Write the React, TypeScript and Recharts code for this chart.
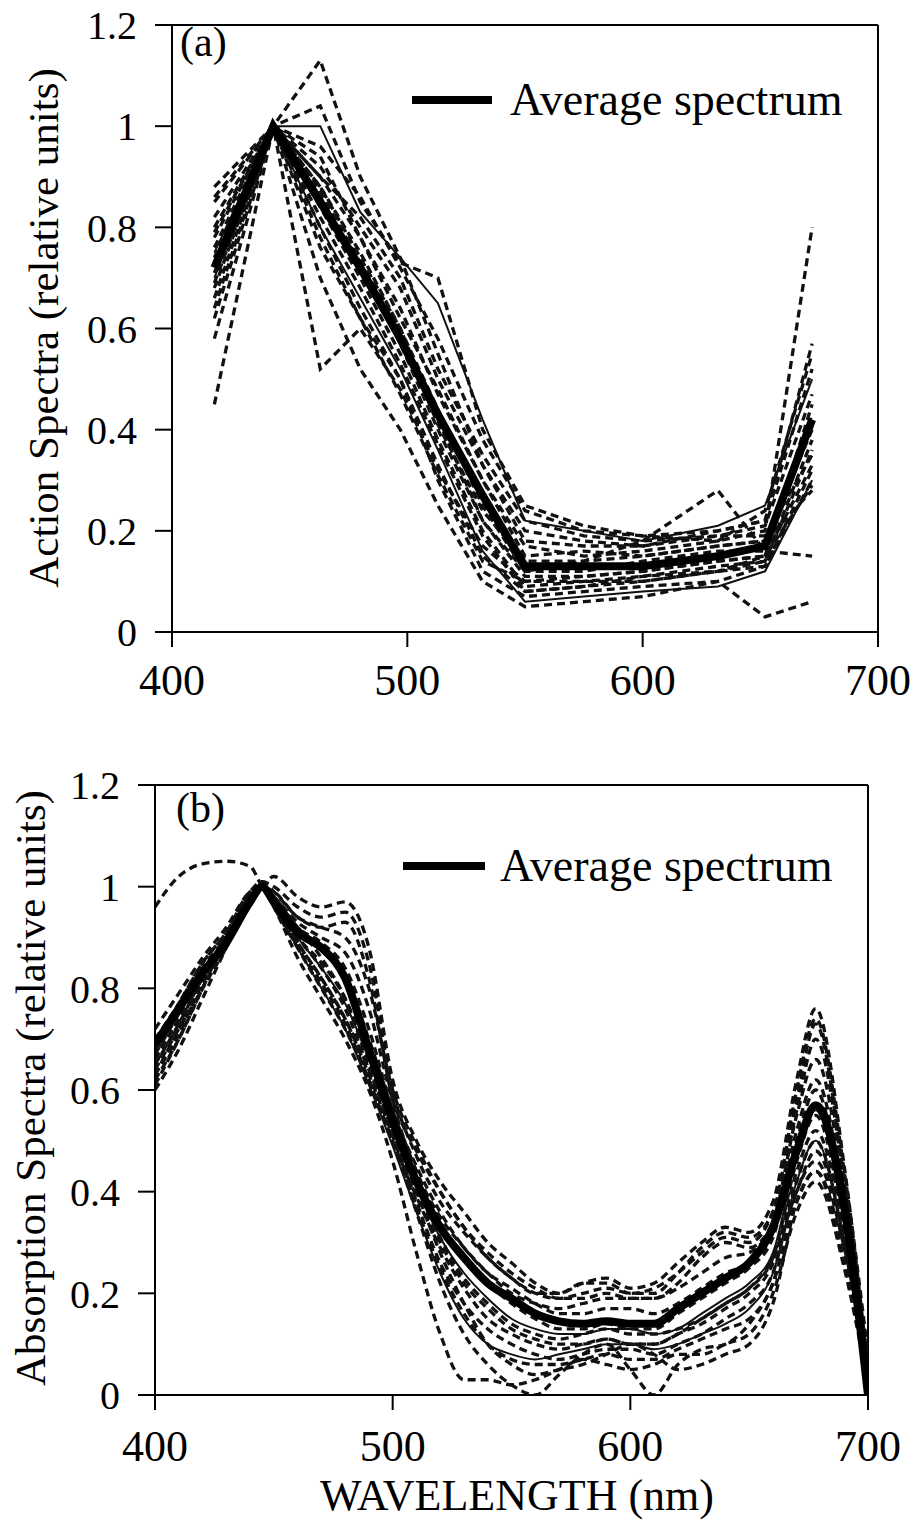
import { LineChart, Line, XAxis, YAxis, ReferenceLine } from "recharts";

// (a) action spectra, sampled at the measurement wavelengths
const WL_A = [418, 443, 463, 480, 497, 513, 532, 550, 575, 600, 632, 652, 672];
const AVG_A = [0.72, 1.0, 0.85, 0.72, 0.58, 0.43, 0.27, 0.13, 0.13, 0.13, 0.15, 0.17, 0.42];
const ACTION_DASHED = [
  [0.45, 1.0, 0.9, 0.78, 0.62, 0.48, 0.3, 0.17, 0.15, 0.16, 0.18, 0.2, 0.8],
  [0.88, 1.0, 1.13, 0.9, 0.74, 0.55, 0.33, 0.2, 0.18, 0.17, 0.2, 0.22, 0.57],
  [0.85, 1.0, 1.04, 0.85, 0.73, 0.7, 0.4, 0.25, 0.21, 0.19, 0.18, 0.24, 0.55],
  [0.62, 1.0, 0.52, 0.6, 0.48, 0.32, 0.17, 0.1, 0.1, 0.1, 0.12, 0.15, 0.45],
  [0.58, 1.0, 0.78, 0.62, 0.5, 0.3, 0.12, 0.07, 0.08, 0.09, 0.1, 0.03, 0.06],
  [0.8, 1.0, 0.88, 0.75, 0.6, 0.42, 0.22, 0.12, 0.14, 0.18, 0.28, 0.16, 0.15],
  [0.68, 1.0, 0.92, 0.8, 0.68, 0.5, 0.33, 0.18, 0.17, 0.17, 0.19, 0.19, 0.35],
  [0.76, 1.0, 0.84, 0.7, 0.55, 0.38, 0.2, 0.09, 0.1, 0.11, 0.13, 0.14, 0.38],
  [0.73, 1.0, 0.86, 0.72, 0.57, 0.4, 0.22, 0.11, 0.11, 0.12, 0.14, 0.15, 0.33],
  [0.82, 1.0, 0.9, 0.82, 0.7, 0.52, 0.35, 0.22, 0.19, 0.18, 0.19, 0.21, 0.47],
  [0.66, 1.0, 0.7, 0.52, 0.4, 0.25, 0.1, 0.05, 0.06, 0.07, 0.1, 0.13, 0.3],
  [0.78, 1.0, 0.94, 0.78, 0.64, 0.47, 0.3, 0.15, 0.16, 0.15, 0.17, 0.18, 0.28],
  [0.71, 1.0, 0.82, 0.68, 0.53, 0.37, 0.19, 0.08, 0.09, 0.1, 0.12, 0.13, 0.32],
  [0.64, 1.0, 0.88, 0.74, 0.6, 0.44, 0.25, 0.12, 0.12, 0.14, 0.16, 0.16, 0.43],
  [0.86, 1.0, 0.96, 0.86, 0.72, 0.58, 0.38, 0.24, 0.2, 0.19, 0.2, 0.22, 0.52],
  [0.74, 1.0, 0.8, 0.64, 0.5, 0.33, 0.15, 0.08, 0.09, 0.11, 0.12, 0.14, 0.36],
  [0.69, 1.0, 0.87, 0.73, 0.59, 0.41, 0.24, 0.14, 0.14, 0.15, 0.17, 0.18, 0.4],
  [0.79, 1.0, 0.76, 0.62, 0.47, 0.31, 0.14, 0.1, 0.11, 0.12, 0.14, 0.15, 0.29],
];
const ACTION_THIN = [
  [0.75, 1.0, 1.0, 0.83, 0.74, 0.65, 0.42, 0.22, 0.2, 0.18, 0.21, 0.25, 0.5],
  [0.7, 1.0, 0.8, 0.66, 0.52, 0.36, 0.16, 0.06, 0.07, 0.08, 0.09, 0.12, 0.3],
];

// (b) absorption spectra
const WL_B = [
  400, 410, 420, 430, 440, 445, 450, 460, 470, 480, 490, 500, 510, 520, 530, 540,
  550, 560, 570, 580, 590, 600, 610, 620, 630, 640, 650, 660, 670, 678, 690, 700,
];
const AVG_B = [
  0.69, 0.76, 0.83, 0.89, 0.97, 1.0, 0.97, 0.91, 0.88, 0.82, 0.68, 0.54, 0.42, 0.33, 0.27, 0.22,
  0.19, 0.16, 0.145, 0.14, 0.145, 0.14, 0.14, 0.17, 0.2, 0.23, 0.26, 0.33, 0.48, 0.57, 0.37, 0.0,
];
const ABS_DASHED = [
  [0.96, 1.02, 1.045, 1.05, 1.04, 1.0, 0.97, 0.92, 0.86, 0.78, 0.65, 0.52, 0.4, 0.3, 0.22, 0.17, 0.13, 0.11, 0.1, 0.1, 0.11, 0.1, 0.1, 0.12, 0.15, 0.18, 0.21, 0.27, 0.4, 0.48, 0.3, 0.03],
  [0.62, 0.7, 0.8, 0.9, 0.98, 1.0, 1.02, 0.98, 0.96, 0.97, 0.88, 0.62, 0.5, 0.42, 0.36, 0.3, 0.26, 0.22, 0.2, 0.22, 0.23, 0.21, 0.22, 0.26, 0.3, 0.33, 0.32, 0.38, 0.62, 0.76, 0.45, 0.05],
  [0.6, 0.68, 0.78, 0.88, 0.97, 1.01, 1.0, 0.96, 0.94, 0.95, 0.85, 0.6, 0.47, 0.38, 0.32, 0.27, 0.23, 0.2, 0.19, 0.2, 0.21, 0.2, 0.21, 0.24, 0.28, 0.31, 0.3, 0.36, 0.58, 0.73, 0.42, 0.04],
  [0.66, 0.74, 0.83, 0.9, 0.98, 1.0, 0.99, 0.94, 0.92, 0.93, 0.82, 0.58, 0.44, 0.35, 0.29, 0.24, 0.2, 0.18, 0.17, 0.18, 0.19, 0.19, 0.19, 0.21, 0.24, 0.27, 0.28, 0.34, 0.55, 0.66, 0.4, 0.06],
  [0.64, 0.72, 0.8, 0.88, 0.97, 1.0, 0.96, 0.86, 0.78, 0.7, 0.6, 0.46, 0.28, 0.12, 0.03, 0.03, 0.02, 0.03, 0.05, 0.07, 0.06, 0.05, 0.06, 0.08, 0.08, 0.1, 0.12, 0.2, 0.36, 0.42, 0.25, 0.02],
  [0.63, 0.71, 0.81, 0.89, 0.98, 1.0, 0.97, 0.88, 0.8, 0.72, 0.62, 0.5, 0.36, 0.22, 0.12, 0.06, 0.02, 0.0, 0.04, 0.08, 0.1, 0.05, 0.0, 0.06, 0.09, 0.1, 0.14, 0.22, 0.38, 0.44, 0.28, 0.04],
  [0.7, 0.77, 0.85, 0.91, 0.99, 1.0, 0.97, 0.9, 0.84, 0.76, 0.64, 0.52, 0.38, 0.26, 0.18, 0.13, 0.1, 0.08, 0.07, 0.08, 0.09, 0.09, 0.08, 0.1, 0.12, 0.15, 0.18, 0.24, 0.42, 0.5, 0.3, 0.03],
  [0.68, 0.76, 0.84, 0.9, 0.98, 1.0, 0.98, 0.92, 0.88, 0.82, 0.7, 0.56, 0.44, 0.34, 0.27, 0.22, 0.18, 0.15, 0.13, 0.13, 0.14, 0.13, 0.13, 0.16, 0.19, 0.22, 0.25, 0.31, 0.5, 0.6, 0.36, 0.05],
  [0.72, 0.79, 0.86, 0.92, 0.99, 1.0, 0.98, 0.93, 0.9, 0.87, 0.76, 0.58, 0.48, 0.4, 0.33, 0.28, 0.24, 0.21, 0.19, 0.19, 0.2, 0.19, 0.19, 0.22, 0.27, 0.3, 0.29, 0.34, 0.56, 0.7, 0.42, 0.07],
  [0.61, 0.7, 0.8, 0.89, 0.98, 1.0, 0.97, 0.89, 0.82, 0.74, 0.63, 0.51, 0.37, 0.25, 0.16, 0.1, 0.07, 0.06, 0.06, 0.07, 0.08, 0.07, 0.07, 0.09, 0.11, 0.13, 0.15, 0.22, 0.4, 0.46, 0.29, 0.05],
  [0.67, 0.75, 0.83, 0.9, 0.98, 1.0, 0.98, 0.92, 0.89, 0.84, 0.72, 0.56, 0.45, 0.36, 0.29, 0.24, 0.21, 0.18, 0.16, 0.16, 0.17, 0.17, 0.16, 0.18, 0.21, 0.24, 0.26, 0.32, 0.52, 0.62, 0.38, 0.06],
  [0.65, 0.73, 0.82, 0.89, 0.97, 1.0, 0.96, 0.88, 0.81, 0.73, 0.62, 0.5, 0.39, 0.29, 0.21, 0.15, 0.12, 0.1, 0.09, 0.1, 0.11, 0.1, 0.1, 0.12, 0.14, 0.17, 0.2, 0.26, 0.44, 0.52, 0.32, 0.04],
  [0.69, 0.77, 0.85, 0.91, 0.99, 1.01, 0.99, 0.94, 0.92, 0.9, 0.8, 0.6, 0.49, 0.4, 0.33, 0.27, 0.23, 0.2, 0.2, 0.22, 0.22, 0.2, 0.2, 0.24, 0.29, 0.32, 0.31, 0.36, 0.6, 0.74, 0.44, 0.08],
  [0.63, 0.72, 0.81, 0.89, 0.97, 1.0, 0.97, 0.9, 0.85, 0.78, 0.66, 0.53, 0.41, 0.31, 0.23, 0.18, 0.14, 0.12, 0.11, 0.12, 0.13, 0.12, 0.12, 0.13, 0.15, 0.18, 0.21, 0.27, 0.46, 0.55, 0.33, 0.05],
  [0.66, 0.74, 0.82, 0.9, 0.98, 1.0, 0.97, 0.89, 0.82, 0.74, 0.64, 0.52, 0.4, 0.28, 0.18, 0.1, 0.06, 0.04, 0.05, 0.06, 0.08, 0.1, 0.08, 0.05, 0.06, 0.08, 0.1, 0.18, 0.38, 0.44, 0.26, 0.02],
];
const ABS_THIN = [
  [0.67, 0.75, 0.83, 0.9, 0.98, 1.0, 0.97, 0.9, 0.84, 0.77, 0.66, 0.53, 0.41, 0.31, 0.24, 0.19, 0.15, 0.13, 0.12, 0.12, 0.13, 0.13, 0.12, 0.13, 0.16, 0.19, 0.22, 0.28, 0.47, 0.56, 0.34, 0.04],
  [0.65, 0.73, 0.82, 0.89, 0.98, 1.0, 0.96, 0.88, 0.8, 0.72, 0.61, 0.49, 0.36, 0.24, 0.15, 0.1, 0.08, 0.07, 0.08, 0.09, 0.1, 0.1, 0.09, 0.1, 0.12, 0.14, 0.17, 0.24, 0.42, 0.5, 0.3, 0.03],
];

const X_TICKS = [400, 500, 600, 700];
const Y_TICKS = [0, 0.2, 0.4, 0.6, 0.8, 1, 1.2];

const FONT = "'Liberation Serif', 'Times New Roman', serif";

function buildRows(wl: number[], avg: number[], dashed: number[][], thin: number[][]) {
  return wl.map((w, i) => {
    const row: Record<string, number> = { w, avg: avg[i] };
    dashed.forEach((s, k) => (row[`d${k}`] = s[i]));
    thin.forEach((s, k) => (row[`t${k}`] = s[i]));
    return row;
  });
}

type PanelProps = {
  rows: Record<string, number>[];
  nDashed: number;
  nThin: number;
  curve: "linear" | "monotone";
  height: number;
  margin: { top: number; right: number; bottom: number; left: number };
  xTickMargin: number;
};

function Panel({ rows, nDashed, nThin, curve, height, margin, xTickMargin }: PanelProps) {
  const axisStyle = { stroke: "#000", strokeWidth: 2 };
  return (
    <LineChart width={920} height={height} data={rows} margin={margin}>
      <XAxis
        dataKey="w"
        type="number"
        domain={[400, 700]}
        ticks={X_TICKS}
        interval={0}
        height={60}
        tickSize={15}
        tickMargin={xTickMargin}
        axisLine={axisStyle}
        tickLine={axisStyle}
        tick={{ fontSize: 44, fill: "#000", fontFamily: FONT }}
        allowDataOverflow
      />
      <YAxis
        type="number"
        domain={[0, 1.2]}
        ticks={Y_TICKS}
        interval={0}
        width={100}
        tickSize={17}
        tickMargin={18}
        axisLine={axisStyle}
        tickLine={axisStyle}
        tick={{ fontSize: 40, fill: "#000", fontFamily: FONT }}
        allowDataOverflow
      />
      <ReferenceLine y={1.2} stroke="#000" strokeWidth={2} />
      <ReferenceLine x={700} stroke="#000" strokeWidth={2} />
      {Array.from({ length: nDashed }, (_, k) => (
        <Line
          key={`d${k}`}
          dataKey={`d${k}`}
          type={curve}
          stroke="#111"
          strokeWidth={3.3}
          strokeDasharray="8 5"
          dot={false}
          isAnimationActive={false}
        />
      ))}
      {Array.from({ length: nThin }, (_, k) => (
        <Line
          key={`t${k}`}
          dataKey={`t${k}`}
          type={curve}
          stroke="#111"
          strokeWidth={2}
          dot={false}
          isAnimationActive={false}
        />
      ))}
      <Line
        dataKey="avg"
        type={curve}
        stroke="#000"
        strokeWidth={8}
        dot={false}
        isAnimationActive={false}
      />
    </LineChart>
  );
}

export default function App() {
  const rowsA = buildRows(WL_A, AVG_A, ACTION_DASHED, ACTION_THIN);
  const rowsB = buildRows(WL_B, AVG_B, ABS_DASHED, ABS_THIN);
  const overlay: React.CSSProperties = {
    position: "absolute",
    left: 0,
    pointerEvents: "none",
    fontFamily: FONT,
  };
  return (
    <div
      style={{
        position: "absolute",
        left: 0,
        top: 0,
        width: 920,
        height: 1525,
        overflow: "hidden",
        background: "#fff",
        fontFamily: FONT,
      }}
    >
      <div style={{ position: "absolute", left: 0, top: 0 }}>
        <Panel
          rows={rowsA}
          nDashed={ACTION_DASHED.length}
          nThin={ACTION_THIN.length}
          curve="linear"
          height={720}
          margin={{ top: 25, right: 42, bottom: 28, left: 72 }}
          xTickMargin={17}
        />
      </div>
      <svg width={920} height={720} style={{ ...overlay, top: 0 }}>
        <text x={180} y={56} fontSize={42} fill="#000">(a)</text>
        <line x1={412} x2={492} y1={100} y2={100} stroke="#000" strokeWidth={8} />
        <text x={510} y={115} fontSize={46} fill="#000">Average spectrum</text>
        <text x={58} y={328} fontSize={43} fill="#000" textAnchor="middle" transform="rotate(-90 58 328)">
          Action Spectra (relative units)
        </text>
      </svg>

      <div style={{ position: "absolute", left: 0, top: 740 }}>
        <Panel
          rows={rowsB}
          nDashed={ABS_DASHED.length}
          nThin={ABS_THIN.length}
          curve="monotone"
          height={780}
          margin={{ top: 45, right: 52, bottom: 65, left: 55 }}
          xTickMargin={20}
        />
      </div>
      <svg width={920} height={785} style={{ ...overlay, top: 740 }}>
        <text x={176} y={82} fontSize={42} fill="#000">(b)</text>
        <line x1={403} x2={485} y1={126} y2={126} stroke="#000" strokeWidth={8} />
        <text x={500} y={141} fontSize={46} fill="#000">Average spectrum</text>
        <text x={45} y={348} fontSize={43} fill="#000" textAnchor="middle" transform="rotate(-90 45 348)">
          Absorption Spectra (relative units)
        </text>
        <text x={517} y={770} fontSize={44} fill="#000" textAnchor="middle">WAVELENGTH (nm)</text>
      </svg>
    </div>
  );
}
